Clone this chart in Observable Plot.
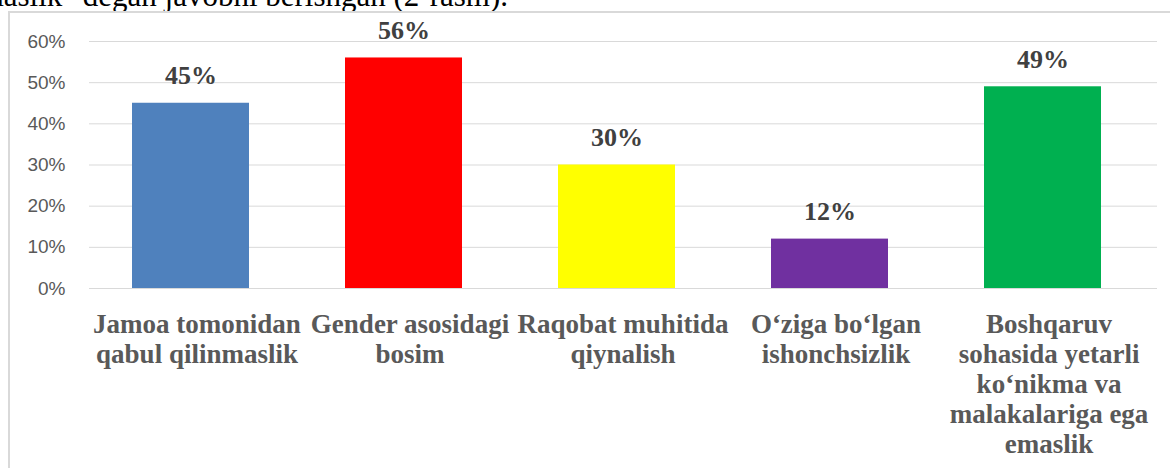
<!DOCTYPE html>
<html>
<head>
<meta charset="utf-8">
<script src="https://cdn.jsdelivr.net/npm/d3@7"></script>
<script src="https://cdn.jsdelivr.net/npm/@observablehq/plot@0.6"></script>
<style>
  html, body { margin: 0; padding: 0; background: #fff; }
  #page { position: relative; width: 1170px; height: 468px; overflow: hidden; }
  #header { position: relative; height: 11px; overflow: hidden; }
  #header span {
    position: absolute; right: 662px; top: -24px;
    font-family: "Liberation Serif", "Times New Roman", serif; font-size: 31px;
    color: #000; white-space: nowrap; line-height: 40px;
  }
  #chart { margin-left: 8px; border-left: 2px solid #d9d9d9; border-top: 2px solid #d9d9d9; width: 1160px; height: 455px; }
  #chart svg { display: block; }
</style>
</head>
<body>
<div id="page">
  <div id="header"><span>emaslik" degan javobni berishgan (2-rasm).</span></div>
  <div id="chart"></div>
</div>
<script>
const categories = [
  "Jamoa tomonidan\nqabul qilinmaslik",
  "Gender asosidagi\nbosim",
  "Raqobat muhitida\nqiynalish",
  "O‘ziga bo‘lgan\nishonchsizlik",
  "Boshqaruv\nsohasida yetarli\nko‘nikma va\nmalakalariga ega\nemaslik"
];
const values = [45, 56, 30, 12, 49];
const colors = ["#4f81bd", "#ff0000", "#ffff00", "#7030a0", "#00b050"];
const yTicks = [0, 10, 20, 30, 40, 50, 60];

const data = categories.map((c, i) => ({cat: c, value: values[i], color: colors[i]}));

const chart = Plot.plot({
  width: 1160,
  height: 455,
  marginLeft: 79,
  marginRight: 13,
  marginTop: 28,
  marginBottom: 180,
  style: {background: "#fff", overflow: "visible"},
  x: {domain: categories, paddingInner: 0.45, paddingOuter: 0.225, axis: null},
  y: {domain: [0, 60], axis: null},
  marks: [
    Plot.ruleY(yTicks, {stroke: "#d9d9d9", strokeWidth: 1}),
    Plot.axisY(yTicks, {
      tickSize: 0, tickPadding: 24, tickFormat: d => d + "%",
      fontSize: 19, fill: "#595959", fontFamily: "Liberation Sans, Arial, sans-serif",
      label: null
    }),
    Plot.barY(data, {x: "cat", y: "value", fill: "color", dx: -6}),
    Plot.text(data, {
      x: "cat", y: "value", text: d => d.value + "%", dx: -6, dy: -19,
      lineAnchor: "bottom", fontSize: 26, fontWeight: "bold", fill: "#404040",
      fontFamily: "Liberation Serif, Times New Roman, serif"
    }),
    Plot.text(data, {
      x: "cat", y: () => 0, text: "cat", dy: 23, lineAnchor: "top",
      lineHeight: 1.11, fontSize: 27, fontWeight: "bold", fill: "#595959",
      fontFamily: "Liberation Serif, Times New Roman, serif"
    })
  ]
});
document.getElementById("chart").appendChild(chart);
</script>
</body>
</html>
